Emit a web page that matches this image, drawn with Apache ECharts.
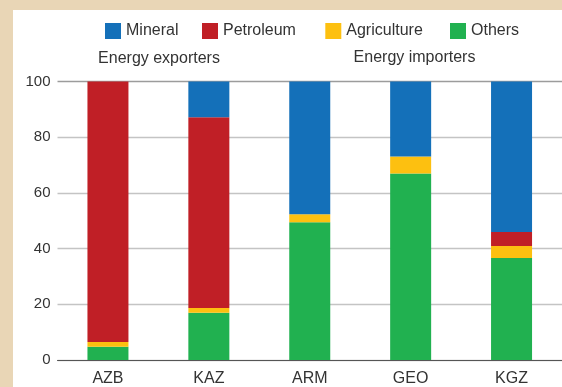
<!DOCTYPE html>
<html>
<head>
<meta charset="utf-8">
<script src="https://cdn.jsdelivr.net/npm/echarts@6/dist/echarts.min.js"></script>
<style>
  html, body { margin: 0; padding: 0; }
  body { width: 562px; height: 387px; background: #E9D6B6; position: relative; overflow: hidden; }
  #panel { position: absolute; left: 13px; top: 10px; right: 0; bottom: 0; background: #ffffff; }
  #chart { position: absolute; left: 0; top: 0; width: 562px; height: 387px; }
</style>
</head>
<body>
<div id="panel"></div>
<div id="chart"></div>
<script>
const categories = ['AZB', 'KAZ', 'ARM', 'GEO', 'KGZ'];
const others = [4.8, 17.0, 49.5, 67.0, 36.6];
const agriculture = [1.7, 1.7, 2.8, 6.1, 4.3];
const petroleum = [93.5, 68.5, 0, 0, 5.1];
const mineral = [0, 12.8, 47.7, 26.9, 54.0];
const yTicks = [0, 20, 40, 60, 80, 100];
const groupLabels = ['Energy exporters', 'Energy importers'];
const legendNames = ['Mineral', 'Petroleum', 'Agriculture', 'Others'];

const colors = { Mineral: '#1470B9', Petroleum: '#C01F26', Agriculture: '#FDC010', Others: '#21B150' };
const font = "'Liberation Sans', Arial, sans-serif";
const legendLeft = [100, 197, 320.3, 445];

const chart = echarts.init(document.getElementById('chart'), null, { renderer: 'canvas' });

function bar(name, data) {
  return {
    name: name, type: 'bar', stack: 'total', data: data, barWidth: 41,
    itemStyle: { color: colors[name] }, emphasis: { disabled: true }
  };
}

chart.setOption({
  animation: false,
  backgroundColor: 'transparent',
  textStyle: { fontFamily: font },
  legend: legendNames.map(function (n, i) {
    return {
      data: [n], left: legendLeft[i], top: 18, itemWidth: 16, itemHeight: 16,
      icon: 'rect', selectedMode: false,
      textStyle: { fontSize: 16, lineHeight: 16, color: '#333', fontFamily: font }
    };
  }),
  grid: { left: 57.5, right: -6.75, top: 81.5, bottom: 26.5 },
  xAxis: {
    type: 'category', data: categories,
    axisLine: { show: true, lineStyle: { color: '#555', width: 1 } },
    axisTick: { show: false },
    axisLabel: { fontSize: 16, color: '#333', margin: 11, fontFamily: font }
  },
  yAxis: {
    type: 'value', min: yTicks[0], max: yTicks[yTicks.length - 1], interval: 20,
    axisLine: { show: false }, axisTick: { show: false },
    axisLabel: { fontSize: 15, color: '#333', margin: 7, fontFamily: font },
    splitLine: { show: true, lineStyle: { color: ['#c4c4c4', '#c4c4c4', '#c4c4c4', '#c4c4c4', '#c4c4c4', '#9c9c9c'], width: 1.3 } }
  },
  series: [
    bar('Others', others),
    bar('Agriculture', agriculture),
    bar('Petroleum', petroleum),
    bar('Mineral', mineral)
  ],
  graphic: [
    { type: 'text', style: { text: groupLabels[0], fill: '#333', font: "16px 'Liberation Sans', Arial, sans-serif", textAlign: 'center', textVerticalAlign: 'middle', x: 159, y: 59 } },
    { type: 'text', style: { text: groupLabels[1], fill: '#333', font: "16px 'Liberation Sans', Arial, sans-serif", textAlign: 'center', textVerticalAlign: 'middle', x: 414.5, y: 57.5 } }
  ]
});
</script>
</body>
</html>
